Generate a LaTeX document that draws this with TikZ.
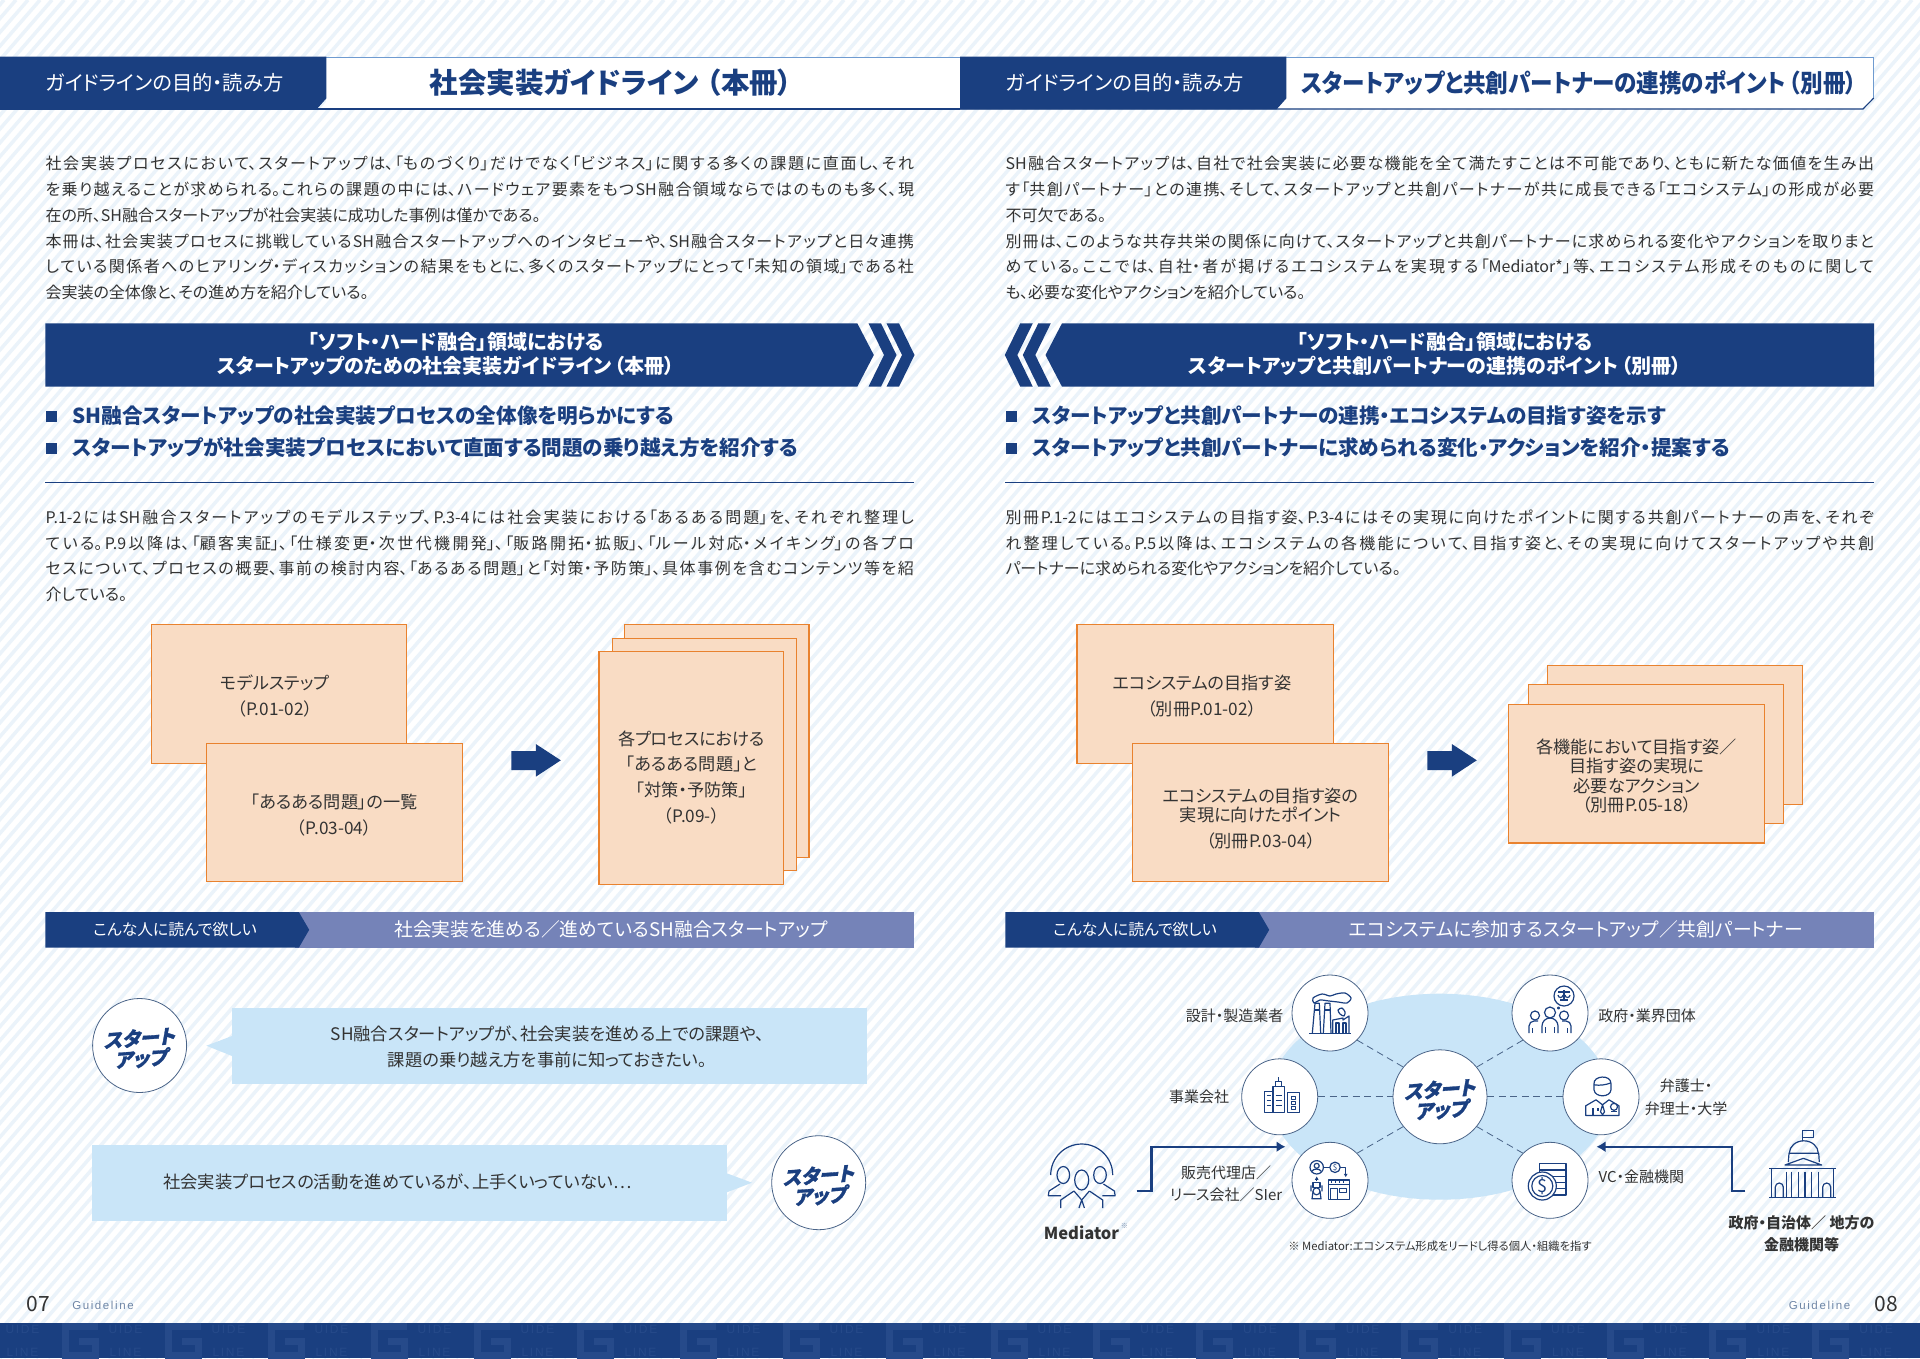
\documentclass[tikz,border=0pt]{standalone}
\usepackage{fontspec}
\setmainfont{Noto Sans CJK JP}[RawFeature=+palt]
\newfontfamily\slantfont{Noto Sans CJK JP}[RawFeature=+palt, BoldFeatures={FakeSlant=.25, FakeBold=1.5}]
\newfontfamily\spacedfont{Liberation Sans}[LetterSpace=14]
\usetikzlibrary{shapes, positioning, arrows.meta}
\XeTeXlinebreaklocale "ja"
\XeTeXlinebreakskip=0pt plus 6pt minus 1pt
\XeTeXlinebreakpenalty=10000
\definecolor{navy}{HTML}{1A3F80}
\definecolor{bandlight}{HTML}{7583B8}
\definecolor{peach}{HTML}{F9DCC4}
\definecolor{peachline}{HTML}{E9822E}
\definecolor{skyfill}{HTML}{C9E5F8}
\definecolor{stripeblue}{HTML}{EBF3FA}
\definecolor{topline}{HTML}{6F9BD0}
\definecolor{bodygray}{HTML}{333333}
\definecolor{ringline}{HTML}{4A6488}
\definecolor{pagegray}{HTML}{6F86A6}
\definecolor{footmark}{HTML}{264A8A}
\newcommand{\fs}[2]{\fontsize{#1}{#2}\selectfont}

\begin{document}
\begin{tikzpicture}[x=1pt, y=-1pt,
    bodytext/.style={anchor=north west, inner sep=0, text width=868.5pt, align=justify,
        text=bodygray, font=\fs{16}{25.8}},
    tabtext/.style={inner sep=0, text=white, font=\fs{20.3}{24}},
    titletext/.style={inner sep=0, text=navy, font=\bfseries\fs{28.5}{30}},
    bannertext/.style={inner sep=0, text=white, align=center, font=\bfseries\fs{20}{23.6}},
    bulletsq/.style={rectangle, fill=navy, minimum size=11pt, inner sep=0},
    bullettext/.style={inner sep=0, text=navy, font=\bfseries\fs{20.6}{24}},
    peachbox/.style={rectangle, draw=peachline, fill=peach, line width=1.1pt, inner sep=0},
    boxtext/.style={inner sep=0, text=bodygray, align=center},
    bandtext/.style={inner sep=0, text=white, font=\fs{18.8}{22}},
    bandtag/.style={inner sep=0, text=white, font=\fs{15.8}{20}},
    bubbletext/.style={inner sep=0, text=bodygray, align=center, font=\fs{17.3}{26}},
    startcircle/.style={circle, draw=ringline, fill=white, line width=.8pt, minimum size=94pt, inner sep=0},
    starttext/.style={inner sep=0, text=navy, align=center, rotate=4, yshift=-3pt,
        font=\slantfont\bfseries\fs{19.5}{20.5}},
    partnercircle/.style={circle, draw=ringline, fill=white, line width=.8pt, minimum size=76pt, inner sep=0},
    partnertext/.style={inner sep=0, text=bodygray, align=center, font=\fs{15}{22.5}},
    linkline/.style={draw=ringline, line width=.8pt, dash pattern=on 7pt off 4.5pt},
    flowline/.style={draw=navy, line width=2.2pt, -{Latex[length=9pt, width=11pt]}},
    iconline/.style={draw=navy, line width=1.2pt, line join=round},
    footmarkline/.style={draw=footmark, line width=7pt},
    footmarktext/.style={inner sep=0, text=footmark, anchor=base, font=\spacedfont\fs{12}{12}}
]
\useasboundingbox (0,0) rectangle (1920,1358);
\fill [white] (0,0) rectangle (1920,1358);
\begin{scope}
    \clip (0,0) rectangle (1920,1358);
    \foreach \sx in {-1200,-1188,...,1920}
        \draw [stripeblue, line width=3.5pt] (\sx,1358) -- ++(1180,-1358);
\end{scope}

% top bands
\fill [white] (326,57) rectangle (960,109);
\draw [topline, line width=.8pt] (0,57) -- (960,57);
\draw [navy, line width=1.1pt] (0,109) -- (960,109);
\fill [white] (1286,57) -- (1873.7,57) -- (1873.7,98) -- (1863,109) -- (1276,109) -- cycle;
\draw [topline, line width=.8pt] (960,57) -- (1873.7,57) -- (1873.7,98);
\draw [navy, line width=1.1pt] (1873.7,98) -- (1863,109) -- (960,109);
\foreach \px in {0,960}
    \fill [navy] (\px,56.7) -- (\px+326.4,56.7) -- (\px+326.4,98.3) -- (\px+316.6,109.3) -- (\px,109.3) -- cycle;
\node (Tab01) [tabtext] at (164.6,82.5) {ガイドラインの目的・読み方};
\node (Tab02) [tabtext] at (1124.6,82.5) {ガイドラインの目的・読み方};
\node (Title01) [titletext] at (611,83) {社会実装ガイドライン\hspace{8pt}（本冊）};
\node (Title02) [titletext, font=\bfseries\fs{25}{30}] at (1579,83) {\scalebox{.902}[1]{スタートアップと共創パートナーの連携のポイント\hspace{4pt}（別冊）}};

% body text
\node (Body01) [bodytext] at (45.3,156) {社会実装プロセスにおいて、スタートアップは、「ものづくり」だけでなく「ビジネス」に関する多くの課題に直面し、それ\linebreak
を乗り越えることが求められる。これらの課題の中には、ハードウェア要素をもつSH融合領域ならではのものも多く、現\linebreak
在の所、SH融合スタートアップが社会実装に成功した事例は僅かである。\par
本冊は、社会実装プロセスに挑戦しているSH融合スタートアップへのインタビューや、SH融合スタートアップと日々連携\linebreak
している関係者へのヒアリング・ディスカッションの結果をもとに、多くのスタートアップにとって「未知の領域」である社\linebreak
会実装の全体像と、その進め方を紹介している。};
\node (Body02) [bodytext] at (1005.3,156) {SH融合スタートアップは、自社で社会実装に必要な機能を全て満たすことは不可能であり、ともに新たな価値を生み出\linebreak
す「共創パートナー」との連携、そして、スタートアップと共創パートナーが共に成長できる「エコシステム」の形成が必要\linebreak
不可欠である。\par
別冊は、このような共存共栄の関係に向けて、スタートアップと共創パートナーに求められる変化やアクションを取りまと\linebreak
めている。ここでは、自社・者が掲げるエコシステムを実現する「Mediator*」等、エコシステム形成そのものに関して\linebreak
も、必要な変化やアクションを紹介している。};
\node (Body03) [bodytext] at (45.3,509.5) {P.1-2にはSH融合スタートアップのモデルステップ、P.3-4には社会実装における「あるある問題」を、それぞれ整理し\linebreak
ている。P.9以降は、「顧客実証」、「仕様変更・次世代機開発」、「販路開拓・拡販」、「ルール対応・メイキング」の各プロ\linebreak
セスについて、プロセスの概要、事前の検討内容、「あるある問題」と「対策・予防策」、具体事例を含むコンテンツ等を紹\linebreak
介している。};
\node (Body04) [bodytext] at (1005.3,509.5) {別冊P.1-2にはエコシステムの目指す姿、P.3-4にはその実現に向けたポイントに関する共創パートナーの声を、それぞ\linebreak
れ整理している。P.5以降は、エコシステムの各機能について、目指す姿と、その実現に向けてスタートアップや共創\linebreak
パートナーに求められる変化やアクションを紹介している。};

% chevron banners
\fill [navy] (45.3,323.3) -- (857.3,323.3) -- (873.8,355) -- (857.3,386.7) -- (45.3,386.7) -- cycle;
\fill [navy] (1062,323.3) -- (1874,323.3) -- (1874,386.7) -- (1062,386.7) -- (1045.5,355) -- cycle;
\foreach \cx in {868.5,886.5} {
    \fill [navy] (\cx,323.3) -- (\cx+12.5,323.3) -- (\cx+28,355) -- (\cx+12.5,386.7) -- (\cx,386.7) -- (\cx+15.5,355) -- cycle;
    \fill [navy] (1919.3-\cx,323.3) -- (1906.8-\cx,323.3) -- (1891.3-\cx,355) -- (1906.8-\cx,386.7) -- (1919.3-\cx,386.7) -- (1903.8-\cx,355) -- cycle;
}
\node (Ban01) [bannertext] at (446,354) {\hspace*{1em}「ソフト・ハード融合」領域における\\スタートアップのための社会実装ガイドライン\hspace{3pt}（本冊）};
\node (Ban02) [bannertext] at (1435,354) {\hspace*{1em}「ソフト・ハード融合」領域における\\スタートアップと共創パートナーの連携のポイント\hspace{3pt}（別冊）};

% bullets
\node (Sq01) [bulletsq] at (51.5,416) {};
\node (Sq02) [bulletsq] at (51.5,448) {};
\node (Sq03) [bulletsq] at (1011.5,416) {};
\node (Sq04) [bulletsq] at (1011.5,448) {};
\node (Bul01) [bullettext, right=15pt of Sq01] {SH融合スタートアップの社会実装プロセスの全体像を明らかにする};
\node (Bul02) [bullettext, right=15pt of Sq02] {スタートアップが社会実装プロセスにおいて直面する問題の乗り越え方を紹介する};
\node (Bul03) [bullettext, right=15pt of Sq03] {スタートアップと共創パートナーの連携・エコシステムの目指す姿を示す};
\node (Bul04) [bullettext, right=15pt of Sq04] {スタートアップと共創パートナーに求められる変化・アクションを紹介・提案する};
\foreach \px in {0,960}
    \draw [navy, line width=1pt] (\px+45.3,482.7) -- (\px+914.3,482.7);

% page boxes
\node (BoxA1) [peachbox, minimum width=255.3pt, minimum height=139pt] at (279,693.8) {};
\node (TxtA1) [boxtext, font=\fs{17.2}{25.8}] at (275,696.3) {モデルステップ\\（P.01-02）};
\node (BoxA2) [peachbox, minimum width=255.9pt, minimum height=138.4pt] at (334.4,812.5) {};
\node (TxtA2) [boxtext, font=\fs{17.2}{25.8}] at (334.4,815) {「あるある問題」の一覧\\（P.03-04）};
\node (BoxA3) [peachbox, minimum width=184.4pt, minimum height=233.4pt] at (716.8,741) {};
\node (BoxA4) [peachbox, minimum width=184.3pt, minimum height=232.4pt] at (704.5,754.5) {};
\node (BoxA5) [peachbox, minimum width=184.8pt, minimum height=233pt] at (691.4,767.8) {};
\node (TxtA5) [boxtext, font=\fs{17.2}{25.8}] at (691.6,777.3) {各プロセスにおける\\「あるある問題」と\\「対策・予防策」\\（P.09-）};
\node (BoxB1) [peachbox, minimum width=256.5pt, minimum height=139pt] at (1205.2,693.8) {};
\node (TxtB1) [boxtext, font=\fs{17.2}{25.8}] at (1202,696.3) {エコシステムの目指す姿\\（別冊P.01-02）};
\node (BoxB2) [peachbox, minimum width=256pt, minimum height=138.4pt] at (1260.7,812.5) {};
\node (TxtB2) [boxtext, font=\fs{17.2}{19.3}] at (1260.7,818.8) {エコシステムの目指す姿の\\実現に向けたポイント\\[6.7pt]（別冊P.03-04）};
\node (BoxB3) [peachbox, minimum width=254.7pt, minimum height=138.6pt] at (1675.2,735) {};
\node (BoxB4) [peachbox, minimum width=254.8pt, minimum height=138.6pt] at (1656.3,754) {};
\node (BoxB5) [peachbox, minimum width=256pt, minimum height=138.3pt] at (1636.7,773.8) {};
\node (TxtB5) [boxtext, font=\fs{17.2}{19.5}] at (1636.7,776) {各機能において目指す姿／\\目指す姿の実現に\\必要なアクション\\（別冊P.05-18）};
\foreach \ax in {0,916}
    \fill [navy] (\ax+511.3,751) -- (\ax+535.8,751) -- (\ax+535.8,744) -- (\ax+560.8,760.3) -- (\ax+535.8,776.7) -- (\ax+535.8,770) -- (\ax+511.3,770) -- cycle;

% reader bands
\foreach \px in {0,960} {
    \fill [bandlight] (\px+295,912) rectangle (\px+914.3,947.7);
    \fill [navy] (\px+45.3,912) -- (\px+298.8,912) -- (\px+309.2,929.8) -- (\px+298.8,947.7) -- (\px+45.3,947.7) -- cycle;
}
\node (Tag01) [bandtag] at (175,929.5) {こんな人に読んで欲しい};
\node (Tag02) [bandtag] at (1135,929.5) {こんな人に読んで欲しい};
\node (Band01) [bandtext] at (611,929.5) {社会実装を進める／進めているSH融合スタートアップ};
\node (Band02) [bandtext] at (1576,929.5) {エコシステムに参加するスタートアップ／共創パートナー};

% speech bubbles
\fill [skyfill] (232,1008.3) rectangle (867,1084);
\fill [skyfill] (232,1036) -- (206.4,1045.7) -- (232,1056) -- cycle;
\fill [skyfill] (91.9,1145.3) rectangle (726.9,1220.7);
\fill [skyfill] (726.9,1173.3) -- (752,1182.7) -- (726.9,1192.3) -- cycle;
\node (Start01) [startcircle] at (139.6,1045.5) {};
\node (StartTxt01) [starttext] at (Start01) {スタート\\アップ};
\node (Start02) [startcircle] at (818.7,1182.7) {};
\node (StartTxt02) [starttext] at (Start02) {スタート\\アップ};
\node (Say01) [bubbletext] at (547.5,1047) {SH融合スタートアップが、社会実装を進める上での課題や、\\課題の乗り越え方を事前に知っておきたい。};
\node (Say02) [bubbletext] at (397.5,1182.3) {社会実装プロセスの活動を進めているが、上手くいっていない⋯};

% ecosystem
\fill [skyfill] (1440,1096.7) ellipse [x radius=170, y radius=103];
\node (Eco00) [startcircle] at (1440,1096.8) {};
\node (EcoTxt00) [starttext] at (Eco00) {スタート\\アップ};
\node (Eco01) [partnercircle] at (1330,1013) {};
\node (Eco02) [partnercircle] at (1550,1013) {};
\node (Eco03) [partnercircle] at (1279.7,1096.8) {};
\node (Eco04) [partnercircle] at (1601,1096.8) {};
\node (Eco05) [partnercircle] at (1330,1180.3) {};
\node (Eco06) [partnercircle] at (1550,1180.3) {};
\draw [linkline] (Eco01.-45) -- (Eco00.141);
\draw [linkline] (Eco02.-135) -- (Eco00.39);
\draw [linkline] (Eco03.east) -- (Eco00.west);
\draw [linkline] (Eco00.east) -- (Eco04.west);
\draw [linkline] (Eco05.45) -- (Eco00.-141);
\draw [linkline] (Eco06.135) -- (Eco00.-39);
\node (Lab01) [partnertext] at (1234.7,1015.7) {設計・製造業者};
\node (Lab02) [partnertext] at (1647,1015.7) {政府・業界団体};
\node (Lab03) [partnertext] at (1199,1096.7) {事業会社};
\node (Lab04) [partnertext] at (1686,1097.5) {弁護士・\\弁理士・大学};
\node (Lab05) [partnertext] at (1226,1184) {販売代理店／\\リース会社／SIer};
\node (Lab06) [partnertext] at (1641.4,1176.7) {VC・金融機関};

% factory icon
\begin{scope}[shift={(Eco01)}, iconline]
    \draw (-20.7,20.3) -- (20.7,20.3);
    \draw (-17.7,20.3) -- (-15,-9.7) -- (-10.7,-9.7) -- (-9.3,20.3);
    \draw (-6.7,20.3) -- (-5,-9.7) -- (0,-9.7) -- (1,20.3);
    \draw (-16,-3) -- (-10,-3) (-5.5,-3) -- (.5,-3);
    \draw plot [smooth cycle] coordinates {(-16,-10) (-17,-15) (-8,-19) (0,-17) (6,-19) (15,-20) (21,-15) (17,-10) (8,-11) (-1,-12) (-10,-13)};
    \draw plot [smooth cycle] coordinates {(8,-3) (12,-5) (15,-1) (14,3) (10,1)};
    \draw (2.7,20.3) -- (2.7,7) -- (13,5) -- (13,7) -- (19,3) -- (19,20.3);
    \draw (6,10) rectangle (9,20.3) (13,10) rectangle (16,20.3);
\end{scope}
% people icon
\begin{scope}[shift={(Eco02)}, iconline]
    \draw (14,-17) circle [radius=10];
    \draw (14,-23) -- (14,-13) (8,-21) -- (20,-21) (10,-13) -- (18,-13);
    \draw (8,-18) arc [start angle=180, end angle=0, radius=2.5] (15,-18) arc [start angle=180, end angle=0, radius=2.5];
    \draw (8.5,-5) circle [radius=1];
    \draw (0,-.5) circle [radius=5.5];
    \draw (-8,20) -- (-8,13) arc [start angle=180, end angle=360, radius=8] -- (8,20);
    \draw (-4.5,14) -- (-4.5,20) (4.5,14) -- (4.5,20);
    \draw (-15,2.5) circle [radius=4.5];
    \draw (-21,20) -- (-21,13) arc [start angle=180, end angle=270, radius=5] -- (-12,8);
    \draw (-17.5,15) -- (-17.5,20);
    \draw (14,2.5) circle [radius=4.5];
    \draw (21,20) -- (21,13) arc [start angle=0, end angle=-90, radius=5] -- (12,8);
    \draw (17.5,15) -- (17.5,20);
\end{scope}
% buildings icon
\begin{scope}[shift={(Eco03)}, iconline]
    \draw (-6.8,-10) rectangle (4.9,15.5);
    \draw (-15.6,-5) rectangle (-6.8,15.5);
    \draw (-4,-10) -- (-4,-15) -- (2,-15) -- (2,-10) (-1,-15) -- (-1,-20);
    \foreach \wy in {-1,4,9}
        \draw (-13,\wy) -- (-9,\wy) (-4,\wy) -- (2,\wy);
    \draw (7.9,-4) rectangle (19.6,15.5);
    \foreach \wy in {0,5,10}
        \draw (11.5,\wy) rectangle (16,\wy+3);
\end{scope}
% lawyer icon
\begin{scope}[shift={(Eco04)}, iconline]
    \draw (-7,-13) .. controls (-8,-21) and (10,-23) .. (10,-13) -- (10,-7) .. controls (9,1) and (-6,1) .. (-7,-7) -- cycle;
    \draw (-7,-12) .. controls (-1,-11) and (5,-12) .. (10,-14);
    \draw (-15.3,18.7) -- (-15.3,9) -- (-5,3) -- (1.5,8) -- (8,3) -- (18,9) -- (18,18.7) -- cycle;
    \draw (1.5,8) -- (-.5,15) -- (1.5,18) -- (3.5,15) -- cycle;
    \draw (-8,18.7) -- (-8,11) (-3,11) -- (-3,14);
    \draw [fill=white] (13,10) circle [radius=3.5];
    \draw (10,15) -- (16,15);
\end{scope}
% shop icon
\begin{scope}[shift={(Eco05)}, iconline]
    \draw (-13.3,-13) circle [radius=6.7];
    \draw (-13.3,-14.5) circle [radius=2.5];
    \draw (-18,-9) .. controls (-17,-12) and (-10,-12) .. (-9,-9);
    \draw (-6.7,-13) -- (0,-13);
    \draw (5,-13) circle [radius=5.2];
    \node (Coin05) [inner sep=0, text=navy, font=\fs{8}{8}] at (5,-13) {\$};
    \draw [-{Latex[length=3.5pt, width=4pt]}] (10.2,-13) -- (15.7,-13) -- (15.7,-3);
    \draw [-{Latex[length=3.5pt, width=4pt]}] (-13.3,1) -- (-13.3,-4);
    \draw (-17,2) rectangle (-10,7);
    \draw (-13.5,11) circle [radius=3.5];
    \draw (-19,5) -- (-19,11) (-8,5) -- (-8,11) (-17,11) -- (-18,18.5) -- (-9,18.5) -- (-10,11);
    \draw (-1.7,-.3) rectangle (19.3,19);
    \draw (-1.7,4.5) -- (19.3,4.5);
    \foreach \tx in {1.5,5.5,9.5,13.5}
        \draw (\tx,-.3) -- (\tx,3);
    \draw (.7,8) rectangle (7.3,19);
    \draw (9.3,8) rectangle (16.7,12.3);
\end{scope}
% coins icon
\begin{scope}[shift={(Eco06)}, iconline]
    \draw (-10.7,-17) rectangle (16,14.7);
    \foreach \wy in {-10.3,-3.7,2.3,8}
        \draw (-10.7,\wy) -- (16,\wy);
    \draw [fill=white] (-7.7,5.7) circle [radius=14];
    \draw (-7.7,5.7) circle [radius=10.5];
    \node (Coin06) [inner sep=0, text=navy, font=\fs{18}{18}] at (-7.7,5.7) {\$};
\end{scope}

% mediator
\begin{scope}[iconline]
    \draw (1050.7,1175) arc [start angle=180, end angle=360, radius=31];
    \draw (1081.7,1180) ellipse [x radius=7, y radius=10];
    \draw (1060.7,1208) -- (1060.7,1200) -- (1074,1191) (1089.4,1191) -- (1102.7,1200) -- (1102.7,1208);
    \draw (1074,1191) -- (1081.7,1200) -- (1089.4,1191) (1081.7,1200) -- (1079,1208) (1081.7,1200) -- (1084.4,1208);
    \draw (1063.3,1175) ellipse [x radius=6.3, y radius=8.5];
    \draw (1100,1175) ellipse [x radius=6.3, y radius=8.5];
    \draw (1060,1184) -- (1049,1191) -- (1048.3,1195.7) -- (1061,1195.7);
    \draw (1103.4,1184) -- (1114.4,1191) -- (1115.1,1195.7) -- (1102.4,1195.7);
\end{scope}
\node (Med01) [inner sep=0, text=bodygray, font=\bfseries\fs{16.5}{20}] at (1081.5,1233) {Mediator};
\node (Med02) [inner sep=0, text=pagegray, font=\fs{7}{7}] at (1124.4,1226) {※};
\node (Note01) [inner sep=0, text=bodygray, font=\fs{11.3}{14}] at (1440,1246.7) {※ Mediator:エコシステム形成をリードし得る個人・組織を指す};

% government icon
\begin{scope}[iconline]
    \draw (1802.3,1141) -- (1802.3,1130.7) -- (1813.3,1130.7) -- (1813.3,1137.3) -- (1802.3,1137.3);
    \draw (1789.3,1153.3) arc [start angle=180, end angle=360, x radius=14.5, y radius=12.5];
    \draw (1788.5,1153.3) -- (1819,1153.3) (1789,1153.3) -- (1788.3,1162) (1818.7,1153.3) -- (1819.3,1162);
    \draw (1785,1165) -- (1803.3,1158.3) -- (1821.7,1165) -- cycle;
    \draw (1769.3,1168.3) -- (1836,1168.3) (1769.3,1197.3) -- (1836,1197.3);
    \draw (1771.7,1168.3) -- (1771.7,1197.3) (1833.3,1168.3) -- (1833.3,1197.3);
    \foreach \wx in {1786.7,1791.7,1798.3,1805,1811.7,1818.3}
        \draw (\wx,1171.7) -- (\wx,1197.3);
    \draw (1775.3,1197.3) -- (1775.3,1187) arc [start angle=180, end angle=360, radius=4] -- (1783.3,1197.3);
    \draw (1822.7,1197.3) -- (1822.7,1187) arc [start angle=180, end angle=360, radius=4] -- (1830.7,1197.3);
\end{scope}
\node (Gov01) [inner sep=0, text=bodygray, align=center, font=\bfseries\fs{15}{22.3}] at (1801.5,1234) {政府・自治体／ 地方の\\金融機関等};

% connectors
\coordinate (FlowL0) at (1136.7,1190.7);
\coordinate (FlowL1) at (1285.5,1146.7);
\coordinate (FlowR0) at (1745.3,1190.7);
\coordinate (FlowR1) at (1596.5,1146.7);
\draw [flowline] (FlowL0) -- ++(14.7,0) |- (FlowL1);
\draw [flowline] (FlowR0) -- ++(-13.5,0) |- (FlowR1);

% footer
\fill [navy] (0,1323) rectangle (1920,1358);
\begin{scope}
    \clip (0,1323) rectangle (1920,1358);
    \foreach \gx in {-41,62,...,900,991,1093.7,...,1900}
        \draw [footmarkline] (\gx+36,1326) -- (\gx+3,1326) -- (\gx+3,1355) -- (\gx+33,1355) -- (\gx+33,1341) -- (\gx+17,1341);
\end{scope}
\foreach \gx in {-41,62,...,900,991,1093.7,...,1880} {
    \node [footmarktext] at (\gx+63.5,1333.5) {UIDE};
    \node [footmarktext] at (\gx+63.5,1356.5) {LINE};
}
\node (Page07) [inner sep=0, text=bodygray, font=\fs{21}{24}] at (38,1304.3) {07};
\node (Page08) [inner sep=0, text=bodygray, font=\fs{21}{24}] at (1886.2,1304.3) {08};
\node (Guide01) [inner sep=0, text=pagegray, font=\spacedfont\fs{11.5}{12}] at (103,1305) {Guideline};
\node (Guide02) [inner sep=0, text=pagegray, font=\spacedfont\fs{11.5}{12}] at (1819.5,1305) {Guideline};
\end{tikzpicture}
\end{document}
